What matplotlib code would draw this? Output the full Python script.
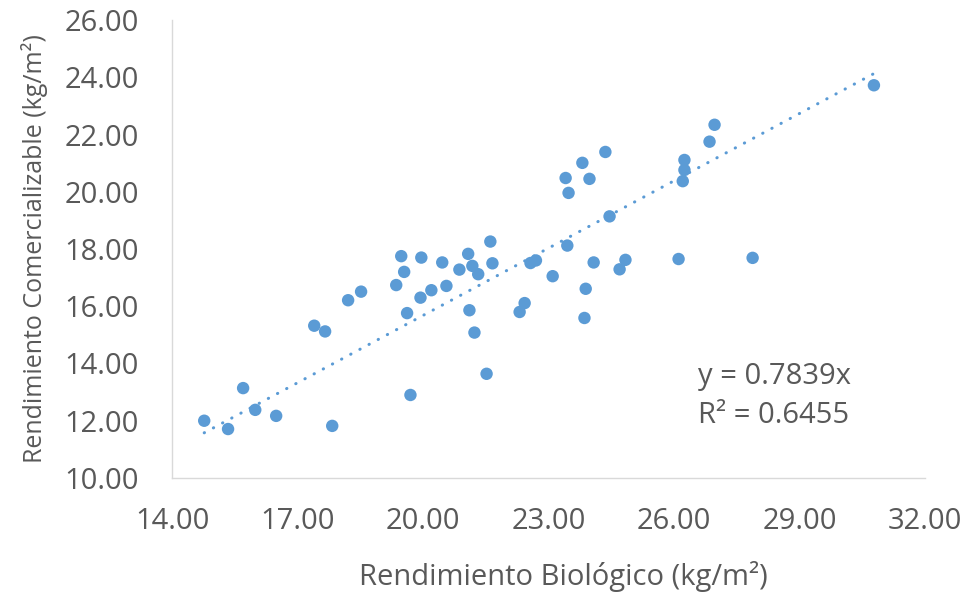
import matplotlib
matplotlib.use("Agg")
import matplotlib.pyplot as plt
import numpy as np

# Rendimiento biologico (x) vs comercializable (y), kg/m2
bio = [14.77, 15.34, 15.70, 15.99, 16.49, 17.40, 17.66, 17.83, 18.21, 18.52,
       19.36, 19.48, 19.55, 19.62, 19.70, 19.94, 19.96, 20.20, 20.46, 20.56,
       20.87, 21.08, 21.11, 21.18, 21.23, 21.32, 21.52, 21.61, 21.66, 22.31,
       22.43, 22.57, 22.70, 23.10, 23.41, 23.45, 23.48, 23.81, 23.86, 23.89,
       23.98, 24.08, 24.36, 24.46, 24.70, 24.84, 26.11, 26.21, 26.25, 26.25,
       26.85, 26.97, 27.88, 30.78]
com = [12.00, 11.71, 13.14, 12.38, 12.17, 15.32, 15.12, 11.82, 16.21, 16.51,
       16.74, 17.75, 17.20, 15.76, 12.90, 16.30, 17.70, 16.56, 17.53, 16.71,
       17.28, 17.83, 15.86, 17.41, 15.08, 17.12, 13.64, 18.26, 17.50, 15.80,
       16.11, 17.51, 17.60, 17.05, 20.48, 18.12, 19.96, 21.01, 15.59, 16.61,
       20.45, 17.53, 21.39, 19.14, 17.29, 17.62, 17.65, 20.37, 20.76, 21.11,
       21.75, 22.34, 17.69, 23.72]

slope = 0.7839
r2 = 0.6455

blue = "#5B9BD5"
gray = "#595959"

plt.rcParams['font.family'] = ['Open Sans', 'DejaVu Sans']

fig = plt.figure(figsize=(9.79, 5.92), dpi=100)
ax = fig.add_axes([0.1757, 0.1926, 0.9448 - 0.1757, 0.9662 - 0.1926])

ax.scatter(bio, com, s=80, color=blue, edgecolors='none', zorder=3)

# linear trend through origin
xs = np.array([min(bio), max(bio)])
ax.plot(xs, slope * xs, color=blue, linewidth=2.2,
        linestyle=(0, (0.1, 3.3)), dash_capstyle='round', zorder=2)

ax.set_xlim(14, 32)
ax.set_ylim(10, 26)
ax.set_xticks(np.arange(14, 33, 3))
ax.set_yticks(np.arange(10, 27, 2))
ax.xaxis.set_major_formatter(matplotlib.ticker.FormatStrFormatter('%.2f'))
ax.yaxis.set_major_formatter(matplotlib.ticker.FormatStrFormatter('%.2f'))

for s in ['top', 'right']:
    ax.spines[s].set_visible(False)
for s in ['left', 'bottom']:
    ax.spines[s].set_color('#D9D9D9')
    ax.spines[s].set_linewidth(1.0)

ax.tick_params(axis='both', length=0, labelsize=21, labelcolor=gray)
ax.tick_params(axis='x', pad=21)
ax.tick_params(axis='y', pad=24)

ax.set_xlabel('Rendimiento Biológico (kg/m²)', fontsize=21, color=gray,
              labelpad=18, x=0.52)
ax.set_ylabel('Rendimiento Comercializable (kg/m²)', fontsize=18, color=gray, labelpad=12)

ax.text(0.698, 0.179, f'y = {slope:.4f}x\nR² = {r2:.4f}', transform=ax.transAxes,
        fontsize=21, color=gray, va='center', ha='left', linespacing=1.45)

fig.savefig('out.png', dpi=100)
